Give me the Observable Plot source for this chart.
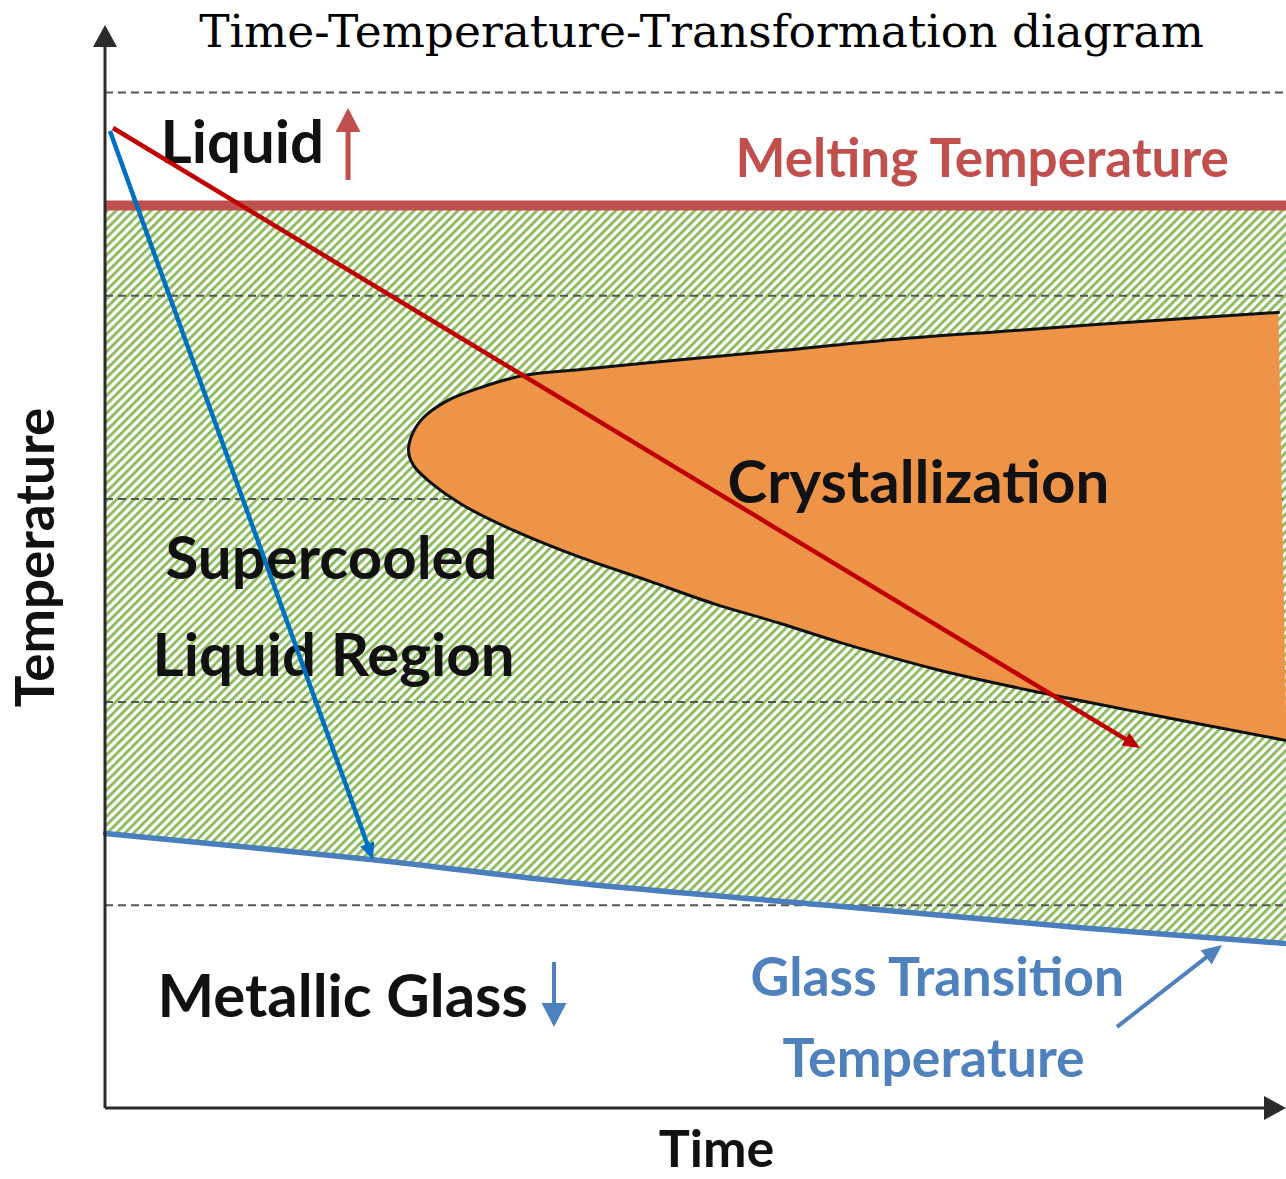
<!DOCTYPE html>
<html><head><meta charset="utf-8">
<script src="https://cdn.jsdelivr.net/npm/d3@7"></script>
<script src="https://cdn.jsdelivr.net/npm/@observablehq/plot@0.6"></script>
<style>html,body{margin:0;padding:0;background:#fff}#chart svg{display:block}</style>
</head><body><div id="chart"></div>
<script>
// ---------- data (time in arbitrary units 0..100, temperature in arbitrary units) ----------
const gridTemps = [100, 200, 300, 400, 500];
const meltingTemp = 444.4;

const glassTime = [0, 22.44, 40.22, 61.4, 82.6, 100];
const glassTemp = [135.3, 122.5, 110.7, 99.9, 89.0, 81.2];

// crystallization "nose": upper branch from right to tip, then lower branch to right
const noseTime = [99.32, 87.64, 75.78, 65.62, 57.16, 48.69, 40.22, 35.39, 31.75, 28.96, 26.93, 26.00, 25.66,
                  26.08, 27.52, 30.31, 34.55, 40.22, 45.89, 51.48, 57.16, 62.24, 70.70, 79.17, 87.64, 100];
const noseTemp = [391.8, 387.3, 382.4, 377.9, 373.0, 368.5, 363.7, 360.7, 354.8, 348.4, 340.1, 332.2, 323.8,
                  316.5, 308.1, 296.8, 284.5, 271.2, 259.9, 248.5, 238.7, 229.3, 215.6, 204.7, 194.9, 181.1];

// arrows (cooling paths, annotations, axes)
const arrowRole = ["axis", "axis", "coolRed", "coolBlue", "liquidUp", "glassDown", "pointer"];
const arrowT1 = [0, 0, 0.68, 0.42, 20.58, 38.02, 85.69];
const arrowY1 = [0, 0, 482.3, 480.8, 456.7, 71.9, 39.9];
const arrowT2 = [0, 100, 87.64, 22.69, 20.58, 38.02, 94.58];
const arrowY2 = [533, 0, 177.2, 122.1, 492.1, 39.9, 80.2];

// labels
const labelText = ["Liquid", "Melting Temperature", "Crystallization", "Supercooled", "Liquid Region",
                   "Metallic Glass", "Glass Transition", "Temperature"];
const labelTime = [4.66, 53.34, 52.67, 5.08, 3.98, 4.40, 54.61, 57.32];
const labelTemp = [465.1, 458.2, 297.8, 260.8, 213.1, 44.8, 55.6, 15.3];
const labelRole = ["phase", "melt", "phase", "phase", "phase", "phase", "glass", "glass"];

const chartTitle = "Time-Temperature-Transformation diagram";
const xTitle = "Time";
const yTitle = "Temperature";

// ---------- styles ----------
const roleStyle = {
  phase: {fill: "#111", fontSize: 60},
  melt: {fill: "#c0504d", fontSize: 53},
  glass: {fill: "#4f81bd", fontSize: 53.5}
};
const arrowStyle = {
  axis: {stroke: "#2b2b2b", width: 3, head: 22, half: 12},
  coolRed: {stroke: "#c00000", width: 4.5, head: 17, half: 7.5},
  coolBlue: {stroke: "#0070c0", width: 4.5, head: 17, half: 7.5},
  liquidUp: {stroke: "#c0504d", width: 5, head: 24, half: 12.5},
  glassDown: {stroke: "#4f81bd", width: 4, head: 24, half: 12.5},
  pointer: {stroke: "#4f81bd", width: 4, head: 20, half: 9}
};

// ---------- tables ----------
const glass = glassTime.map((t, i) => ({t, T: glassTemp[i]}));
const nose = noseTime.map((t, i) => ({t, T: noseTemp[i]}));
const arrows = arrowRole.map((r, i) => ({role: r, x1: arrowT1[i], y1: arrowY1[i], x2: arrowT2[i], y2: arrowY2[i]}));
const labels = labelText.map((s, i) => ({text: s, t: labelTime[i], T: labelTemp[i], role: labelRole[i]}));

const NS = "http://www.w3.org/2000/svg";
function el(name, attrs) {
  const e = document.createElementNS(NS, name);
  for (const k in attrs) e.setAttribute(k, attrs[k]);
  return e;
}

// pattern definition mark
const hatchDefs = () => {
  const defs = el("defs", {});
  const p = el("pattern", {id: "ttt-hatch", patternUnits: "userSpaceOnUse", width: 6.2, height: 6.2, patternTransform: "rotate(45)"});
  p.appendChild(el("rect", {x: 0, y: 0, width: 6.2, height: 6.2, fill: "#ffffff"}));
  p.appendChild(el("line", {x1: 1.6, y1: -1, x2: 1.6, y2: 8, stroke: "#89b95a", "stroke-width": 2.9}));
  defs.appendChild(p);
  return defs;
};

// arrows with filled heads, positioned through the plot's scales
const arrowMark = (rows) => (index, scales) => {
  const g = el("g", {});
  for (const a of rows) {
    const s = arrowStyle[a.role];
    const x1 = scales.x(a.x1), y1 = scales.y(a.y1), x2 = scales.x(a.x2), y2 = scales.y(a.y2);
    const dx = x2 - x1, dy = y2 - y1, L = Math.hypot(dx, dy), ux = dx / L, uy = dy / L;
    const bx = x2 - ux * s.head, by = y2 - uy * s.head;
    g.appendChild(el("line", {x1, y1, x2: bx + ux * 2, y2: by + uy * 2, stroke: s.stroke, "stroke-width": s.width}));
    const pts = [[x2, y2], [bx - uy * s.half, by + ux * s.half], [bx + uy * s.half, by - ux * s.half]];
    g.appendChild(el("polygon", {points: pts.map(p => p.join(",")).join(" "), fill: s.stroke}));
  }
  return g;
};

const font = "Lato, 'Open Sans', sans-serif";
const textMarks = Object.keys(roleStyle).map(role =>
  Plot.text(labels.filter(d => d.role === role), {
    x: "t", y: "T", text: "text", textAnchor: "start", lineAnchor: "bottom",
    fill: roleStyle[role].fill, fontSize: roleStyle[role].fontSize, fontWeight: "bold", fontFamily: font
  })
);

const chart = Plot.plot({
  width: 1286, height: 1179,
  marginLeft: 105, marginRight: 0, marginTop: 25, marginBottom: 71,
  x: {domain: [0, 100], axis: null},
  y: {domain: [0, 533], axis: null},
  style: {background: "#fff", overflow: "visible"},
  marks: [
    hatchDefs,
    Plot.areaY(glass, {x: "t", y1: "T", y2: () => meltingTemp, fill: "url(#ttt-hatch)", curve: "catmull-rom"}),
    Plot.ruleY(gridTemps, {stroke: "#555", strokeWidth: 2, strokeDasharray: "8,5"}),
    Plot.line(glass, {x: "t", y: "T", stroke: "#4a7ebd", strokeWidth: 5.5, curve: "catmull-rom"}),
    Plot.ruleY([meltingTemp], {stroke: "#c0504d", strokeWidth: 10}),
    Plot.line(nose, {x: "t", y: "T", fill: "#ee9449", stroke: "#111", strokeWidth: 3, curve: "catmull-rom"}),
    ...textMarks,
    Plot.text([xTitle], {x: 51.74, y: -29.0, text: d => d, lineAnchor: "bottom", fontSize: 52, fontWeight: "bold", fontFamily: font, fill: "#111"}),
    Plot.text([yTitle], {x: -4.40, y: 271.2, text: d => d, rotate: -90, lineAnchor: "bottom", fontSize: 53, fontWeight: "bold", fontFamily: font, fill: "#111"}),
    Plot.text([chartTitle], {x: 50.47, y: 522.2, text: d => d, lineAnchor: "bottom", fontSize: 45.5, fontFamily: "'DejaVu Serif', serif", fill: "#000"}),
    arrowMark(arrows)
  ]
});
document.getElementById("chart").appendChild(chart);
</script>
</body></html>
